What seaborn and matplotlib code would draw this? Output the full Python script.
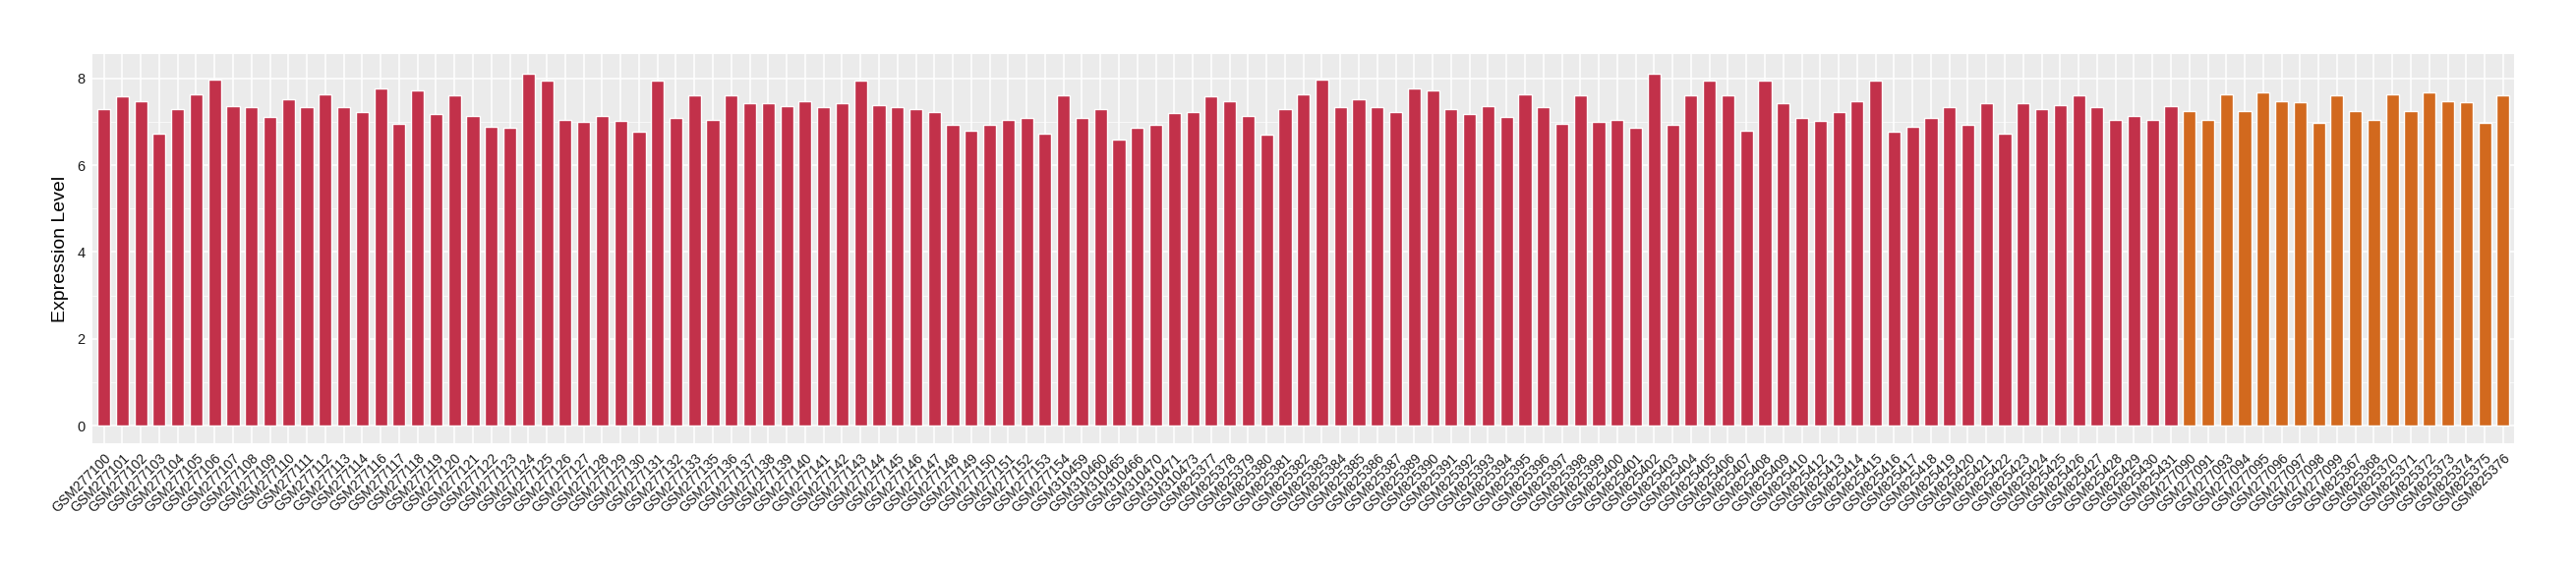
import numpy as np
import pandas as pd
import seaborn as sns
import matplotlib.pyplot as plt

# sample ids, in plotting order
red_ids = (
    ["GSM2771%02d" % i for i in list(range(0, 15)) + list(range(16, 34)) + list(range(35, 55))]
    + ["GSM310459", "GSM310460", "GSM310465", "GSM310466", "GSM310470", "GSM310471", "GSM310473"]
    + ["GSM825%d" % i for i in list(range(377, 388)) + list(range(389, 411)) + list(range(412, 432))]
)
orange_ids = [
    "GSM277090", "GSM277091", "GSM277093", "GSM277094", "GSM277095", "GSM277096",
    "GSM277097", "GSM277098", "GSM277099",
    "GSM825367", "GSM825368", "GSM825370", "GSM825371", "GSM825372", "GSM825373",
    "GSM825374", "GSM825375", "GSM825376",
]

red_values = [
    7.30, 7.58, 7.48, 6.72, 7.30, 7.64, 7.98, 7.37, 7.35, 7.12, 7.53, 7.33, 7.64, 7.33, 7.23,
    7.78, 6.96, 7.73, 7.19, 7.62, 7.14, 6.89, 6.87, 8.12, 7.96, 7.05, 7.01, 7.14, 7.03, 6.78,
    7.96, 7.08, 7.60,
    7.05, 7.62, 7.42, 7.44, 7.37, 7.48, 7.33, 7.42, 7.96, 7.39, 7.35, 7.30, 7.23, 6.94, 6.80,
    6.94, 7.05, 7.10, 6.73, 7.60,
    7.10, 7.30, 6.60, 6.87, 6.94, 7.21, 7.23,
    7.58, 7.48, 7.14, 6.71, 7.30, 7.64, 7.98, 7.35, 7.53, 7.33, 7.23,
    7.78, 7.73, 7.30, 7.19, 7.37, 7.12, 7.64, 7.33, 6.96, 7.62, 7.01, 7.05, 6.87, 8.12, 6.94,
    7.60, 7.96, 7.60, 6.80, 7.96, 7.42, 7.10,
    7.03, 7.23, 7.48, 7.96, 6.78, 6.89, 7.08, 7.35, 6.94, 7.44, 6.73, 7.42, 7.30, 7.39, 7.62,
    7.33, 7.05, 7.14, 7.05, 7.37,
]
orange_values = [
    7.26, 7.05, 7.64, 7.26, 7.67, 7.48, 7.46, 6.98, 7.60,
    7.26, 7.05, 7.64, 7.26, 7.67, 7.48, 7.46, 6.98, 7.60,
]

group_colors = {"red": "#C2314A", "orange": "#D2691E"}

df = pd.DataFrame({
    "sample": red_ids + orange_ids,
    "value": red_values + orange_values,
    "group": ["red"] * len(red_ids) + ["orange"] * len(orange_ids),
})

sns.set_theme(style="darkgrid", rc={
    "axes.facecolor": "#EBEBEB",
    "grid.color": "white",
    "axes.edgecolor": "white",
})
plt.rcParams["font.family"] = ["Liberation Sans", "DejaVu Sans"]

fig = plt.figure(figsize=(26.2, 5.8), dpi=100)
ax = fig.add_axes([0.036, 0.222, 0.940, 0.683])

sns.barplot(data=df, x="sample", y="value", hue="group", order=df["sample"],
            palette=group_colors, width=0.7, saturation=1, legend=False, ax=ax)

n = len(df)
ax.set_xlim(-0.6, n - 0.4)
ax.set_ylim(-0.41, 8.56)
ax.set_yticks([0, 2, 4, 6, 8])
ax.set_yticks([1, 3, 5, 7], minor=True)
ax.grid(which="major", color="white", linewidth=1.1)
ax.grid(which="minor", axis="y", color="white", linewidth=0.5)
ax.set_axisbelow(True)
for s in ax.spines.values():
    s.set_visible(False)

ax.set_xlabel("")
ax.set_ylabel("Expression Level", fontsize=14, color="black", labelpad=6)
ax.tick_params(which="major", length=3.5, width=0.8, color="#333333",
               labelsize=10, labelcolor="#1a1a1a", pad=2)
ax.tick_params(which="minor", length=0)
ax.tick_params(axis="y", labelsize=10.5)
plt.setp(ax.get_xticklabels(), rotation=45, ha="right", va="top", rotation_mode="anchor")

fig.savefig("out.png", dpi=100, facecolor="white")
